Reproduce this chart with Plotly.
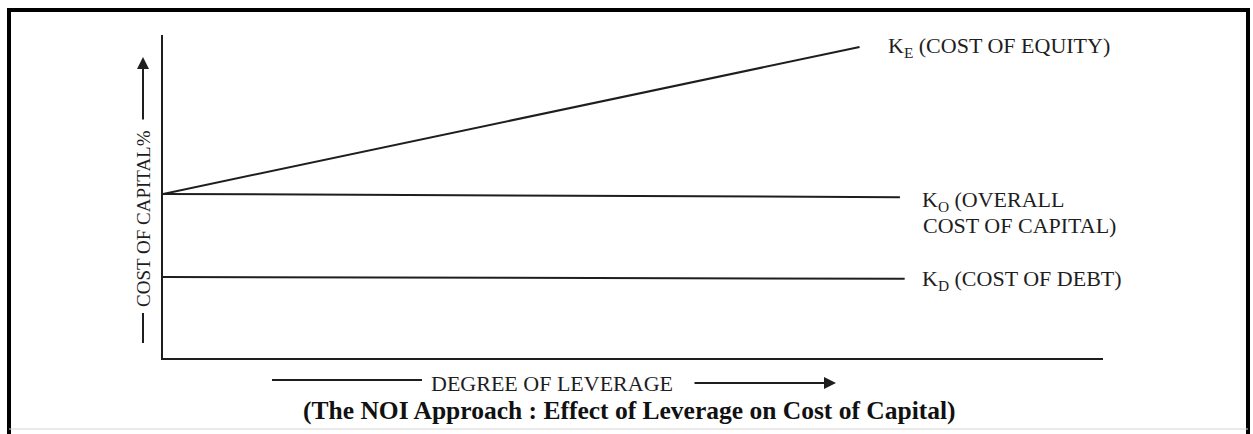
import plotly.graph_objects as go

# ---- data ----
ke_x = [0.0, 7.41]
ke_y = [5.08, 9.63]
ko_x = [0.0, 7.84]
ko_y = [5.08, 4.98]
kd_x = [0.0, 7.89]
kd_y = [2.51, 2.45]

ke_label = "K<sub>E</sub> (COST OF EQUITY)"
ko_label_1 = "K<sub>O</sub> (OVERALL"
ko_label_2 = "COST OF CAPITAL)"
kd_label = "K<sub>D</sub> (COST OF DEBT)"
y_title = "COST OF CAPITAL%"
x_title = "DEGREE OF LEVERAGE"
caption = "(The NOI Approach : Effect of Leverage on Cost of Capital)"

OFF = 0  # body margin removed by post_script
W, H = 1253, 434
L, T = 163, 35
PW, PH = 940, 323
R = W - L - PW
B = H - T - PH


def px(xp):
    return (xp - OFF - L) / PW


def py(yp):
    return (T + PH - (yp - OFF)) / PH


INK = "#1e1e1e"
FONT = "Liberation Serif"

fig = go.Figure()
for xs, ys in [(ke_x, ke_y), (ko_x, ko_y), (kd_x, kd_y)]:
    fig.add_trace(go.Scatter(x=xs, y=ys, mode="lines",
                             line=dict(color=INK, width=2), hoverinfo="skip",
                             showlegend=False))

annos = []
lab_font = dict(family=FONT, size=22, color=INK)
annos.append(dict(x=px(886), y=py(47), text=ke_label, xanchor="left", yanchor="middle", font=lab_font))
annos.append(dict(x=px(920), y=py(201), text=ko_label_1, xanchor="left", yanchor="middle", font=lab_font))
annos.append(dict(x=px(921), y=py(225), text=ko_label_2, xanchor="left", yanchor="middle", font=lab_font))
annos.append(dict(x=px(920), y=py(280), text=kd_label, xanchor="left", yanchor="middle", font=lab_font))
# y title
annos.append(dict(x=px(143), y=py(219), text=y_title, textangle=-90, xanchor="center", yanchor="middle",
                  font=dict(family=FONT, size=19, color=INK)))
annos.append(dict(x=px(143), y=py(57), text="", showarrow=True, ax=0, ay=64, axref="pixel", ayref="pixel",
                  arrowhead=2, arrowsize=1.2, arrowwidth=2, arrowcolor=INK, standoff=0, startstandoff=0))
# x title
annos.append(dict(x=px(552), y=py(383), text=x_title, xanchor="center", yanchor="middle",
                  font=dict(family=FONT, size=22, color=INK)))
annos.append(dict(x=px(836), y=py(383), text="", showarrow=True, ax=-143, ay=0, axref="pixel", ayref="pixel",
                  arrowhead=2, arrowsize=1.2, arrowwidth=2, arrowcolor=INK, standoff=0, startstandoff=0))
# caption
annos.append(dict(x=px(629), y=py(410), text="<b>" + caption + "</b>", xanchor="center", yanchor="middle",
                  font=dict(family=FONT, size=25.5, color="#111111")))
for a in annos:
    a.setdefault("showarrow", False)
    a["xref"] = "paper"
    a["yref"] = "paper"

shapes = [
    # outer frame
    dict(type="line", x0=px(7), x1=px(1250), y0=py(10), y1=py(10), line=dict(color="#000", width=4)),
    dict(type="line", x0=px(9), x1=px(9), y0=py(8), y1=py(436), line=dict(color="#000", width=4)),
    dict(type="line", x0=px(1248), x1=px(1248), y0=py(8), y1=py(436), line=dict(color="#000", width=4)),
    dict(type="line", x0=px(9), x1=px(1248), y0=py(429), y1=py(429), line=dict(color="#d4d4d4", width=1)),
    # y title dash
    dict(type="line", x0=px(143), x1=px(143), y0=py(313), y1=py(343), line=dict(color=INK, width=2)),
    # x title left line
    dict(type="line", x0=px(272), x1=px(422), y0=py(380), y1=py(380), line=dict(color=INK, width=2)),
]
for s in shapes:
    s["xref"] = "paper"
    s["yref"] = "paper"

fig.update_layout(
    width=W, height=H,
    margin=dict(l=L, r=R, t=T, b=B, pad=0),
    paper_bgcolor="white", plot_bgcolor="white",
    xaxis=dict(range=[0, 10], showline=True, linecolor=INK, linewidth=2, showgrid=False,
               zeroline=False, showticklabels=False, ticks=""),
    yaxis=dict(range=[0, 10], showline=True, linecolor=INK, linewidth=2, showgrid=False,
               zeroline=False, showticklabels=False, ticks=""),
    annotations=annos,
    shapes=shapes,
)

fig.write_html("out.html", config={"displayModeBar": False},
               post_script="document.body.style.margin='0';document.body.style.overflow='hidden';")
